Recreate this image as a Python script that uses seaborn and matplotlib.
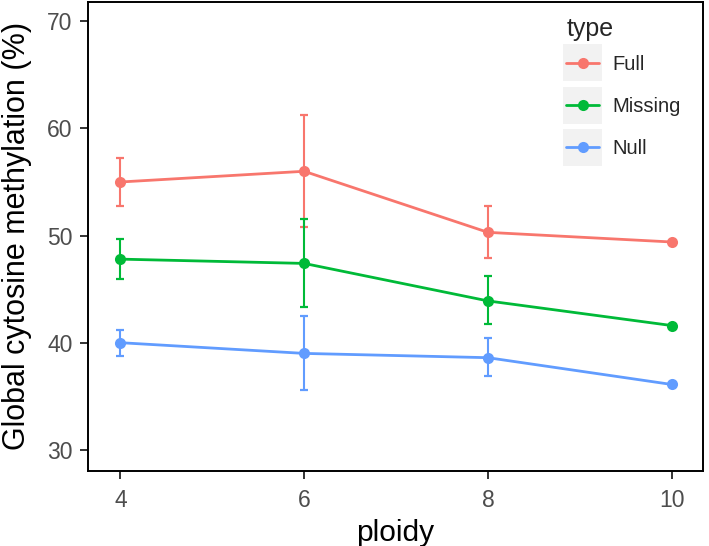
import pandas as pd
import matplotlib
matplotlib.use("Agg")
import matplotlib.pyplot as plt
import seaborn as sns
from matplotlib.patches import Rectangle

# values
ploidy = [4, 6, 8, 10]
types = ["Full", "Missing", "Null"]
full_mean = [55.0, 56.0, 50.3, 49.4]
full_lo = [52.8, 50.8, 47.9, 49.4]
full_hi = [57.2, 61.3, 52.8, 49.4]
missing_mean = [47.8, 47.4, 43.9, 41.6]
missing_lo = [45.9, 43.3, 41.7, 41.6]
missing_hi = [49.7, 51.5, 46.2, 41.6]
null_mean = [40.0, 39.0, 38.6, 36.1]
null_lo = [38.75, 35.55, 36.9, 36.1]
null_hi = [41.2, 42.5, 40.4, 36.1]

rows = []
for t, m, lo, hi in zip(types,
                        [full_mean, missing_mean, null_mean],
                        [full_lo, missing_lo, null_lo],
                        [full_hi, missing_hi, null_hi]):
    for p, v, l, h in zip(ploidy, m, lo, hi):
        rows.append({"ploidy": p, "type": t, "meth": v, "lo": l, "hi": h})
df = pd.DataFrame(rows)

palette = {"Full": "#F8766D", "Missing": "#00BA38", "Null": "#619CFF"}

sns.set_style("white")
plt.rcParams["font.family"] = ["Liberation Sans", "DejaVu Sans"]

fig = plt.figure(figsize=(7.09, 5.46), dpi=100)
ax = fig.add_axes([0.1237, 0.1379, 0.8674, 0.8584])

# error bars first so the lines sit on top
for t in types:
    d = df[df["type"] == t]
    d = d[(d["hi"] - d["lo"]) > 0.05]
    ax.errorbar(d["ploidy"], d["meth"],
                yerr=[d["meth"] - d["lo"], d["hi"] - d["meth"]],
                fmt="none", ecolor=palette[t], elinewidth=1.5,
                capsize=3.2, capthick=1.6, zorder=2)

sns.lineplot(data=df, x="ploidy", y="meth", hue="type", palette=palette,
             marker="o", markersize=8, markeredgewidth=0, linewidth=2.0,
             ax=ax, zorder=3)

ax.set_xlim(3.645, 10.337)
ax.set_ylim(28.05, 71.8)
ax.set_xticks([4, 6, 8, 10])
ax.set_yticks([30, 40, 50, 60, 70])
ax.set_xlabel("ploidy", fontsize=21.5, color="black", labelpad=5)
ax.set_ylabel("Global cytosine methylation (%)", fontsize=22, color="black", labelpad=11)
ax.tick_params(axis="both", which="both", direction="out", length=5.5, width=1.4,
               colors="#333333", labelsize=16.5, labelcolor="#4D4D4D",
               bottom=True, left=True)
ax.tick_params(axis="x", pad=7.5)
ax.tick_params(axis="y", pad=5.5)
for s in ax.spines.values():
    s.set_visible(True)
    s.set_color("black")
    s.set_linewidth(1.4)

leg = ax.legend(title="type", loc="upper left", bbox_to_anchor=(0.765, 0.985),
                frameon=False, fontsize=14.5, title_fontsize=18,
                handlelength=1.65, handletextpad=0.65, labelspacing=1.15,
                borderaxespad=0)
leg._legend_box.align = "left"
leg._legend_box.sep = 10

fig.canvas.draw()
renderer = fig.canvas.get_renderer()
inv = ax.transAxes.inverted()
for h in leg.legend_handles:
    bb = h.get_window_extent(renderer)
    cx = (bb.x0 + bb.x1) / 2
    cy = (bb.y0 + bb.y1) / 2
    w, hgt = 39, 37
    (x0, y0) = inv.transform((cx - w / 2, cy - hgt / 2))
    (x1, y1) = inv.transform((cx + w / 2, cy + hgt / 2))
    ax.add_patch(Rectangle((x0, y0), x1 - x0, y1 - y0, transform=ax.transAxes,
                           facecolor="#F2F2F2", edgecolor="none", zorder=4,
                           clip_on=False))

fig.savefig("out.png", dpi=100)
